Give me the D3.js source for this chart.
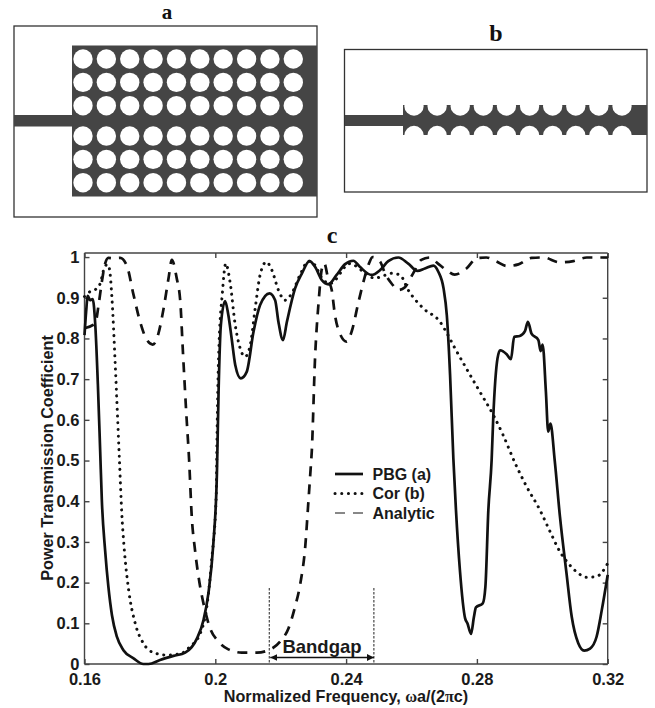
<!DOCTYPE html>
<html>
<head>
<meta charset="utf-8">
<script src="https://cdn.jsdelivr.net/npm/d3@7"></script>
<style>
  html, body { margin: 0; padding: 0; background: #fff; }
  text { font-family: "Liberation Sans", Arial, sans-serif; font-weight: bold; fill: #1a1a1a; }
  .panel-title { font-family: "Liberation Serif", serif; font-size: 24px; fill: #111; }
  .axis text { font-size: 16.5px; }
  .axis path, .axis line { stroke: #444; stroke-width: 1.4; }
</style>
</head>
<body>
<div id="chart"></div>
<script>
const xTicks = [0.16, 0.2, 0.24, 0.28, 0.32];
const yTicks = [0, 0.1, 0.2, 0.3, 0.4, 0.5, 0.6, 0.7, 0.8, 0.9, 1];
const bandgap = [0.2165, 0.2485];

// [frequency, transmission]
const pbg = [
  [.16,.808],[.1605,.866],[.161,.905],[.1617,.894],[.1625,.897],[.1633,.833],[.1641,.685],[.1648,.522],
  [.1653,.403],[.1663,.28],[.1673,.19],[.1684,.12],[.1699,.067],[.1719,.034],[.175,.014],[.178,0],
  [.1796,0],[.1831,.01],[.1872,.02],[.1908,.028],[.1944,.063],[.1964,.108],[.1979,.174],[.1994,.296],
  [.2005,.47],[.201,.669],[.2017,.833],[.203,.892],[.204,.857],[.205,.8],[.2061,.735],[.2078,.702],
  [.2096,.718],[.2117,.817],[.2137,.882],[.2166,.911],[.2183,.894],[.2193,.841],[.2207,.796],[.2219,.841],
  [.2244,.923],[.2265,.96],[.2288,.99],[.2305,.976],[.2326,.943],[.2346,.933],[.2371,.956],[.2396,.982],
  [.2422,.991],[.2442,.976],[.2478,.956],[.2504,.968],[.2529,.99],[.256,.999],[.259,.984],[.2618,.966],
  [.2641,.972],[.2667,.979],[.2682,.964],[.2698,.923],[.2708,.857],[.2718,.71],[.2728,.505],[.2736,.378],
  [.2748,.231],[.2764,.112],[.2771,.1],[.2782,.074],[.2791,.116],[.2797,.139],[.2818,.149],[.2826,.19],
  [.2835,.378],[.2845,.5],[.285,.605],[.2863,.751],[.2871,.771],[.2891,.761],[.2904,.749],[.2914,.804],
  [.2931,.806],[.2947,.818],[.2956,.841],[.2967,.812],[.2988,.796],[.2995,.769],[.3001,.785],[.3011,.669],
  [.3018,.571],[.3025,.591],[.3038,.5],[.3054,.362],[.3074,.223],[.309,.116],[.311,.051],[.3128,.033],
  [.3146,.038],[.3166,.067],[.3182,.133],[.32,.219]
];
const cor = [
  [.16,.903],[.1617,.915],[.1633,.92],[.1648,.935],[.166,.972],[.167,.982],[.1676,.972],[.1684,.898],
  [.1694,.735],[.1707,.497],[.1714,.37],[.1721,.288],[.1735,.182],[.1755,.1],[.178,.051],[.1811,.028],
  [.1852,.022],[.1893,.025],[.1923,.043],[.1954,.075],[.1974,.141],[.1989,.256],[.2003,.419],[.2005,.546],
  [.201,.751],[.2022,.915],[.2032,.984],[.2045,.939],[.2061,.833],[.2076,.776],[.2091,.755],[.2107,.784],
  [.2122,.874],[.2137,.956],[.2156,.988],[.2173,.968],[.2193,.919],[.2213,.894],[.2234,.911],[.2259,.956],
  [.2285,.99],[.2305,.98],[.2326,.948],[.2351,.935],[.2412,.984],[.2453,.964],[.2488,.948],[.2514,.954],
  [.2539,.96],[.2565,.956],[.259,.919],[.2636,.874],[.2687,.841],[.2709,.812],[.273,.78],[.2768,.726],
  [.2809,.669],[.285,.612],[.288,.563],[.2916,.495],[.2952,.436],[.2993,.378],[.3024,.325],[.3054,.276],
  [.308,.247],[.311,.223],[.3135,.213],[.3166,.215],[.32,.247]
];
const analytic = [
  [.16,.825],[.1633,.837],[.1643,.882],[.1653,.939],[.1663,.984],[.1673,.998],[.1689,.997],[.1709,.998],
  [.1729,.98],[.175,.907],[.177,.841],[.1791,.796],[.1809,.785],[.1826,.812],[.1842,.874],[.1857,.948],
  [.1867,.993],[.1882,.948],[.1893,.89],[.1901,.767],[.1911,.62],[.192,.5],[.1928,.362],[.1938,.28],
  [.1952,.198],[.1966,.141],[.1984,.088],[.201,.055],[.204,.036],[.2081,.028],[.2127,.028],[.2163,.034],
  [.2198,.055],[.2224,.088],[.2244,.141],[.226,.198],[.2275,.288],[.2285,.403],[.2292,.485],[.2295,.522],
  [.2305,.751],[.2316,.89],[.2326,.972],[.2333,.985],[.2346,.943],[.2356,.919],[.2366,.857],[.2381,.812],
  [.2402,.792],[.2417,.817],[.2438,.89],[.2453,.939],[.2468,.98],[.2481,1],[.2504,.989],[.2519,.96],
  [.2539,.935],[.256,.919],[.258,.926],[.2605,.96],[.263,.993],[.2656,.999],[.2681,.984],[.2707,.968],
  [.2732,.957],[.2768,.972],[.2799,.997],[.2829,.999],[.286,.989],[.2891,.978],[.2927,.982],[.2967,.998],
  [.3003,.999],[.3054,.987],[.3095,.99],[.3136,.999],[.32,.999]
];
const seriesNames = ["PBG (a)", "Cor (b)", "Analytic"];

// lattice positions of the air holes in the two structures
const holeCols = [0, 1, 2, 3, 4, 5, 6, 7, 8, 9];
const holeRowsA = [0, 1, 2, 3.3, 4.3, 5.3];
const holeRowsB = [0, 1];

const width = 655;
const height = 708;
const plot = {left: 84.5, right: 607.7, top: 253, bottom: 664};
const ink = "#111";
const metal = "#454545";

const svg = d3.select("#chart")
  .append("svg")
  .attr("width", width)
  .attr("height", height)
  .attr("viewBox", `0 0 ${width} ${height}`)
  .style("display", "block");

svg.append("rect").attr("width", width).attr("height", height).attr("fill", "#fff");

function drawPanelA() {
  const g = svg.append("g");
  const colX = d3.scaleLinear().domain([0, 9]).range([83, 293.3]);
  const rowY = d3.scaleLinear().domain([0, 5.3]).range([59, 182.7]);
  g.append("rect").attr("x", 14).attr("y", 26).attr("width", 303).attr("height", 191)
    .attr("fill", "#fff").attr("stroke", "#333").attr("stroke-width", 1.3);
  g.append("rect").attr("x", 72).attr("y", 45.5).attr("width", 245).attr("height", 151).attr("fill", metal);
  g.append("rect").attr("x", 14).attr("y", 115).attr("width", 58).attr("height", 11.5).attr("fill", metal);
  g.selectAll("circle")
    .data(holeRowsA.flatMap(row => holeCols.map(col => ({row, col}))))
    .join("circle")
    .attr("cx", d => colX(d.col))
    .attr("cy", d => rowY(d.row))
    .attr("r", 9.7)
    .attr("fill", "#fff");
  svg.append("text").attr("class", "panel-title")
    .attr("x", 167).attr("y", 18.5).attr("text-anchor", "middle")
    .style("font-size", "21px").text("a");
}

function drawPanelB() {
  const g = svg.append("g");
  const colX = d3.scaleLinear().domain([0, 9]).range([414, 622]);
  const rowY = d3.scaleLinear().domain([0, 1]).range([106, 135.5]);
  g.append("rect").attr("x", 344.5).attr("y", 49.5).attr("width", 302.5).attr("height", 142.5)
    .attr("fill", "#fff").attr("stroke", "#333").attr("stroke-width", 1.3);
  g.append("rect").attr("x", 403).attr("y", 105).attr("width", 244).attr("height", 30).attr("fill", metal);
  g.append("rect").attr("x", 345).attr("y", 115).attr("width", 58).attr("height", 11).attr("fill", metal);
  g.selectAll("circle")
    .data(holeRowsB.flatMap(row => holeCols.map(col => ({row, col}))))
    .join("circle")
    .attr("cx", d => colX(d.col))
    .attr("cy", d => rowY(d.row))
    .attr("r", 9.7)
    .attr("fill", "#fff");
  svg.append("text").attr("class", "panel-title")
    .attr("x", 496).attr("y", 41).attr("text-anchor", "middle").text("b");
}

function drawChart() {
  const x = d3.scaleLinear().domain([0.16, 0.32]).range([plot.left, plot.right]);
  const y = d3.scaleLinear().domain([0, 1.01]).range([plot.bottom, plot.top]);
  const tick = 5;

  const xBottom = svg.append("g").attr("class", "axis")
    .attr("transform", `translate(0,${plot.bottom})`)
    .call(d3.axisBottom(x).tickValues(xTicks).tickSize(-tick).tickPadding(9).tickFormat(d3.format("~g")));
  const xTop = svg.append("g").attr("class", "axis")
    .attr("transform", `translate(0,${plot.top})`)
    .call(d3.axisTop(x).tickValues(xTicks).tickSize(-tick).tickFormat(""));
  const yLeft = svg.append("g").attr("class", "axis")
    .attr("transform", `translate(${plot.left},0)`)
    .call(d3.axisLeft(y).tickValues(yTicks).tickSize(-tick).tickPadding(5).tickFormat(d3.format("~g")));
  const yRight = svg.append("g").attr("class", "axis")
    .attr("transform", `translate(${plot.right},0)`)
    .call(d3.axisRight(y).tickValues(yTicks).tickSize(-tick).tickFormat(""));
  xBottom.select(".domain").attr("d", `M${plot.left},0H${plot.right}`);
  xTop.select(".domain").attr("d", `M${plot.left},0H${plot.right}`);
  yLeft.select(".domain").attr("d", `M0,${plot.top}V${plot.bottom}`);
  yRight.select(".domain").attr("d", `M0,${plot.top}V${plot.bottom}`);

  const line = d3.line()
    .x(d => x(d[0]))
    .y(d => y(d[1]))
    .curve(d3.curveMonotoneX);

  const styles = [
    {data: analytic, width: 2.7, dash: "10 8", cap: "butt"},
    {data: cor, width: 3, dash: "0.1 6.6", cap: "round"},
    {data: pbg, width: 2.7, dash: null, cap: "butt"}
  ];
  svg.append("g").selectAll("path")
    .data(styles)
    .join("path")
    .attr("fill", "none")
    .attr("stroke", ink)
    .attr("stroke-width", d => d.width)
    .attr("stroke-dasharray", d => d.dash)
    .attr("stroke-linecap", d => d.cap)
    .attr("stroke-linejoin", "round")
    .attr("d", d => line(d.data));

  // bandgap markers
  svg.append("g").selectAll("line")
    .data(bandgap)
    .join("line")
    .attr("x1", d => x(d)).attr("x2", d => x(d))
    .attr("y1", 588).attr("y2", plot.bottom)
    .attr("stroke", "#222").attr("stroke-width", 1).attr("stroke-dasharray", "2.5 1.5");
  const defs = svg.append("defs");
  ["start", "end"].forEach(name => {
    defs.append("marker")
      .attr("id", `arrow-${name}`)
      .attr("viewBox", "0 -4 8 8")
      .attr("refX", name === "end" ? 8 : 0)
      .attr("refY", 0)
      .attr("markerUnits", "userSpaceOnUse")
      .attr("markerWidth", 7)
      .attr("markerHeight", 7)
      .attr("orient", "auto")
      .append("path")
      .attr("d", "M0,-4L8,0L0,4Z")
      .attr("fill", ink);
  });
  // marker-start with orient auto keeps the line direction, so flip that head by hand
  defs.select("#arrow-start path").attr("d", "M8,-4L0,0L8,4Z");
  svg.append("line")
    .attr("x1", x(bandgap[0]) + 1).attr("x2", x(bandgap[1]))
    .attr("y1", 657.5).attr("y2", 657.5)
    .attr("stroke", ink).attr("stroke-width", 1.3)
    .attr("marker-start", "url(#arrow-start)")
    .attr("marker-end", "url(#arrow-end)");
  svg.append("text")
    .attr("x", 322).attr("y", 652.5)
    .attr("text-anchor", "middle")
    .style("font-size", "18.5px")
    .text("Bandgap");

  // legend
  const legendRows = [
    {name: seriesNames[0], y: 474, width: 2.7, dash: null, cap: "butt"},
    {name: seriesNames[1], y: 493.5, width: 3, dash: "0.1 6.6", cap: "round"},
    {name: seriesNames[2], y: 513, width: 1, dash: "10 8", cap: "butt"}
  ];
  const legend = svg.append("g").selectAll("g").data(legendRows).join("g");
  legend.append("line")
    .attr("x1", 335).attr("x2", 363)
    .attr("y1", d => d.y).attr("y2", d => d.y)
    .attr("stroke", ink)
    .attr("stroke-width", d => d.width)
    .attr("stroke-dasharray", d => d.dash)
    .attr("stroke-linecap", d => d.cap);
  legend.append("text")
    .attr("x", 372.5).attr("y", d => d.y + 5.5)
    .style("font-size", "16px")
    .text(d => d.name);

  svg.append("text").attr("class", "panel-title")
    .attr("x", 332).attr("y", 243).attr("text-anchor", "middle").text("c");

  svg.append("text")
    .attr("transform", "translate(53,458) rotate(-90)")
    .attr("text-anchor", "middle")
    .style("font-size", "16.2px")
    .text("Power Transmission Coefficient");

  const xLabel = svg.append("text")
    .attr("x", 346).attr("y", 701.5)
    .attr("text-anchor", "middle")
    .style("font-size", "16.2px");
  xLabel.append("tspan").text("Normalized Frequency, ");
  xLabel.append("tspan").style("font-family", "'Liberation Serif', serif").text("ω");
  xLabel.append("tspan").text("a/(2");
  xLabel.append("tspan").style("font-family", "'Liberation Serif', serif").text("π");
  xLabel.append("tspan").text("c)");
}

drawPanelA();
drawPanelB();
drawChart();
</script>
</body>
</html>
